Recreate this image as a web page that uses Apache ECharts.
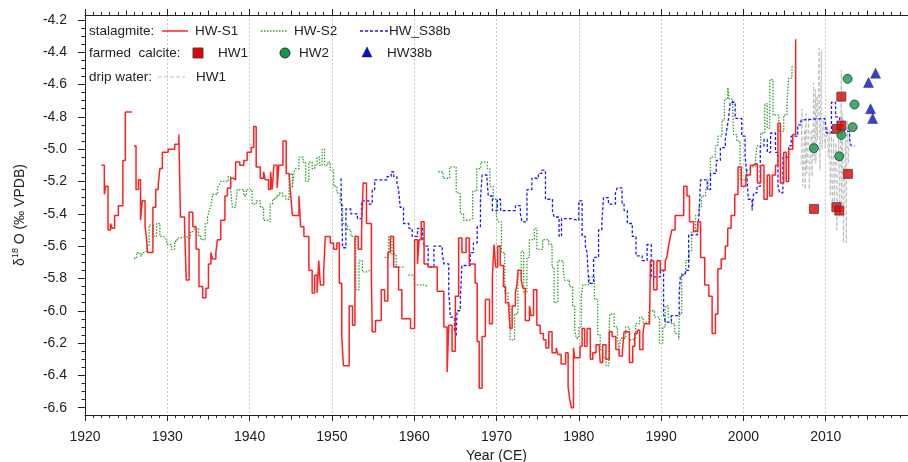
<!DOCTYPE html>
<html>
<head>
<meta charset="utf-8">
<script src="https://cdn.jsdelivr.net/npm/echarts@6/dist/echarts.min.js"></script>
<style>
html, body { margin: 0; padding: 0; background: #fff; }
#chart { width: 908px; height: 462px; }
</style>
</head>
<body>
<div id="chart"></div>
<script>
// 石笋 HW-S1（红色实线，阶梯）
var s1Year = [1922.0,1922.35,1922.5,1922.8,1923.1,1923.3,1923.6,1924.05,1924.6,1924.9,1925.5,1925.7,
  1925.95,1926.2,1926.5,1926.75,1926.95,1927.3,1927.45,1927.6,1928.25,1928.6,1928.9,1929.1,1929.4,1930.1,1930.9,
  1931.4,1931.6,1932.1,1932.3,1932.65,1933.1,1933.5,1933.85,1934.3,1934.7,1935.0,1935.3,1935.5,1935.9,1936.1,
  1936.5,1937.0,1937.3,1937.7,1938.0,1938.3,1938.8,1939.3,1939.7,1940.2,1940.5,1940.8,1941.3,1941.7,1941.9,
  1942.3,1942.55,1942.75,1942.95,1943.35,1943.55,1944.05,1944.45,1944.8,1945.0,1945.2,1946.0,1946.2,1946.6,
  1947.2,1947.6,1947.9,1948.2,1948.4,1948.6,1949.0,1949.2,1949.8,1950.2,1950.6,1950.9,1951.2,1951.4,1952.1,
  1952.5,1952.8,1953.2,1953.6,1953.8,1954.2,1954.8,1954.9,1955.3,1956.0,1956.4,1956.8,1957.1,1957.5,1958.1,
  1958.5,1959.55,1960.05,1960.4,1960.6,1960.85,1961.2,1961.7,1962.8,1963.6,1964.0,1964.2,1964.6,1965.0,1965.4,
  1965.8,1966.3,1966.7,1967.4,1967.65,1967.9,1968.25,1968.65,1969.15,1969.5,1969.7,1969.9,1970.15,1970.45,
  1970.85,1971.1,1971.5,1971.65,1971.9,1972.3,1972.5,1972.6,1973.0,1973.2,1973.5,1974.0,1974.2,1974.5,1974.9,
  1975.3,1975.7,1976.0,1976.35,1976.75,1977.25,1977.45,1977.85,1978.4,1978.7,1978.9,1979.1,1979.35,1979.5,
  1980.15,1980.4,1980.7,1981.0,1981.4,1981.7,1982.1,1982.5,1982.6,1982.9,1983.3,1983.7,1984.05,1984.5,1984.9,
  1985.3,1985.5,1986.15,1986.55,1986.8,1987.1,1987.4,1987.8,1987.95,1988.6,1988.7,1989.1,1989.5,1989.9,1990.5,
  1990.7,1990.9,1991.1,1991.3,1991.7,1992.75,1993.15,1993.45,1993.95,1994.45,1994.8,1995.3,1995.8,1996.2,
  1996.6,1996.9,1997.3,1997.8,1998.1,1998.5,1998.95,1999.35,1999.75,2000.3,2000.85,2001.1,2001.7,2002.1,
  2002.5,2002.9,2003.2,2003.5,2003.9,2004.2,2004.5,2004.9,2005.2,2005.5,2006.0,2006.35];
var s1Val = [-5.10,-5.28,-5.23,-5.50,-5.46,-5.49,-5.41,-5.35,-5.07,-4.77,-4.77,null,
  -4.98,-5.25,-5.19,-5.44,-5.32,-5.48,-5.54,-5.64,-5.36,-5.25,-5.22,-5.12,-5.02,-5.00,-4.97,
  -4.91,-5.42,-5.48,-5.81,-5.39,-5.48,-5.62,-5.85,-5.92,-5.86,-5.71,-5.64,-5.68,-5.64,-5.56,
  -5.44,-5.29,-5.24,-5.18,-5.19,-5.08,-5.10,-5.07,-5.02,-4.99,-4.86,-5.11,-5.18,-5.14,-5.19,
  -5.25,-5.14,-5.25,-5.10,-5.24,-5.10,-4.95,-5.15,-5.16,-5.29,-5.41,-5.29,-5.48,-5.54,
  -5.75,-5.89,-5.78,-5.89,-5.69,-5.84,-5.76,-5.54,-5.58,-5.62,-5.58,-5.83,-6.16,-6.34,-5.97,
  -6.09,-5.54,-5.62,-5.50,-5.21,-5.46,-5.80,-6.13,-6.06,-5.87,-5.94,-5.64,-5.54,-5.73,-5.87,
  -6.05,-6.11,-5.56,-5.71,-5.56,-5.45,-5.71,-5.73,-5.88,-6.10,-6.38,-6.09,-6.25,-5.91,-5.55,
  -5.64,-5.55,-5.71,-5.83,-6.19,-6.48,-6.16,-5.93,-6.08,-5.79,-5.59,-5.73,-5.60,-5.72,
  -5.85,-5.95,-6.00,-6.11,-5.97,-5.89,-5.83,-5.75,-5.81,-5.86,-6.06,-5.97,-6.03,-5.87,-6.09,
  -6.14,-6.18,-6.23,-6.13,-6.26,-6.23,-6.27,-6.33,-6.26,-6.47,-6.55,-6.60,-6.23,-6.29,
  -6.22,-6.11,-6.22,-6.11,-6.30,-6.26,-6.21,-6.24,-6.32,-6.21,-6.30,-6.13,-6.16,-6.24,-6.28,
  -6.25,-6.13,-6.32,-6.22,-6.14,-6.12,-6.24,-6.14,-6.08,-6.05,-5.69,-5.87,-5.69,-5.75,-5.69,
  -5.67,-5.60,-5.55,-5.50,-5.41,-5.23,-5.29,-5.45,-5.51,-5.45,-5.67,-5.84,-5.91,-6.14,
  -6.02,-5.74,-5.68,-5.60,-5.49,-5.41,-5.28,-5.11,-5.23,-5.16,-5.10,-5.09,-5.21,-5.10,
  -5.31,-5.16,-5.29,-5.16,-5.10,-4.84,-5.21,-5.02,-5.20,-5.00,-4.91,-4.32];

// 石笋 HW-S2（绿色点线）
var s2Year = [1925.95,1926.3,1926.7,1926.95,1927.2,1927.5,1927.8,1928.3,1928.7,1929.1,1929.5,1929.8,1930.0,
  1930.5,1930.9,1931.2,1931.6,1932.1,1932.8,1933.1,1933.3,1933.8,1934.1,1934.6,1934.9,1935.1,1935.3,1935.5,
  1936.1,1936.3,1936.5,1936.8,1937.0,1937.4,1937.7,1937.9,1938.3,1938.5,1938.9,1939.3,1939.6,1940.3,1940.8,
  1941.3,1941.7,1942.2,1942.5,1942.8,1943.2,1943.6,1944.0,1944.4,1944.8,1945.0,1945.2,1945.4,1945.6,1946.0,
  1946.5,1946.8,1947.2,1947.6,1947.9,1948.2,1948.5,1948.8,1949.1,1949.5,1949.8,1950.2,1950.6,1951.0,1951.3,
  1951.5,1951.9,1952.3,1952.9,1953.3,1953.7,1954.25,1954.6,1954.8,
  1956.4,1956.9,1957.3,1957.8,1958.6,1958.9,
  1959.3,1960.0,1961.3,1961.6,
  1962.9,1963.5,1964.3,1965.1,1965.6,1966.0,1966.6,1967.1,1967.6,1968.1,1968.9,1969.2,1969.6,1970.0,1970.2,
  1970.6,1971.0,1971.4,1971.65,1972.2,1972.6,1973.0,1973.3,1973.7,1974.0,1974.6,1974.9,1975.6,1976.35,1976.75,
  1977.0,1977.45,1978.1,1978.25,1978.86,1979.25,1979.5,1979.7,1980.0,1980.3,1980.5,1981.3,1981.9,1982.3,1982.6,
  1982.9,1983.3,1983.65,1983.75,1984.3,1984.7,1984.9,1985.1,1985.7,1986.15,1986.55,1986.9,1987.4,1987.8,1988.5,
  1989.2,1989.8,1990.2,1990.5,1990.85,1991.25,1991.65,1992.15,1992.2,1992.5,1993.0,1993.4,1993.7,1994.2,1994.6,
  1994.9,1995.4,1995.7,1996.0,1996.6,1996.9,1997.4,1997.7,1998.1,1998.3,1998.7,1998.8,1999.2,1999.6,2000.4,
  2000.85,2001.45,2001.65,2002.1,2002.6,2002.9,2003.2,2003.6,2004.3,2004.9,2005.3,2005.5,2005.9,2006.2];
var s2Val = [-5.675,-5.64,-5.66,-5.64,-5.63,-5.60,-5.47,-5.54,-5.46,-5.54,-5.55,-5.56,-5.59,
  -5.62,-5.57,-5.55,-5.54,-5.55,-5.51,-5.50,-5.49,-5.54,-5.56,-5.46,-5.42,-5.38,-5.35,-5.28,
  -5.24,-5.22,-5.20,-5.19,-5.20,-5.17,-5.25,-5.36,-5.37,-5.25,-5.25,-5.29,-5.25,-5.34,-5.32,
  -5.36,-5.44,-5.45,-5.34,-5.31,-5.29,-5.27,-5.29,-5.31,-5.16,-5.15,-5.24,-5.14,-5.12,-5.05,
  -5.08,-5.20,-5.08,-5.12,-5.10,-5.05,-5.10,-5.00,-5.10,-5.08,-5.13,-5.23,-5.27,-5.34,-5.45,
  -5.47,-5.50,-5.54,-5.87,-5.69,-5.76,-5.75,-5.75,null,
  -5.67,-5.54,-5.65,-5.73,-5.73,null,
  -5.78,-5.84,-5.85,null,
  -5.14,-5.18,-5.11,-5.27,-5.40,-5.44,-5.43,-5.26,-5.12,-5.08,-5.12,-5.23,-5.31,-5.42,-5.45,
  -5.64,-5.89,-5.97,-6.18,-6.02,-5.77,-5.63,-5.89,-5.67,-5.56,-5.49,-5.62,-5.56,-5.59,-5.73,
  -5.95,-5.69,-5.73,-5.81,-5.85,-5.97,-6.12,-6.17,-6.10,-5.91,-5.84,-5.79,-5.93,-6.15,-6.24,
  -6.29,-6.34,-6.24,-6.02,-6.10,-6.17,-6.24,-6.17,-6.10,-6.18,-6.17,-6.08,-6.04,-6.07,-6.00,
  -6.04,-6.20,-6.10,-5.97,-6.04,-6.08,-6.14,-6.18,-6.02,-5.77,-5.69,-5.63,-5.51,-5.41,-5.36,
  -5.29,-5.25,-5.19,-5.05,-4.98,-4.92,-4.82,-4.69,-4.62,-4.69,-4.76,-4.91,-4.95,-5.19,-5.13,
  -5.11,-5.07,-4.98,-4.90,-4.72,-4.87,-4.57,-4.79,-4.89,-4.79,-4.70,-4.56,-4.49,-4.49];

// 石笋 HW_S38b（蓝色虚线）
var s38Year = [1951.1,1951.3,1951.7,1952.3,1953.1,1953.6,1954.5,1954.9,1955.2,1956.7,1957.2,1957.5,1957.9,
  1958.1,1958.3,1958.7,1959.35,1959.75,1960.4,1961.0,1961.2,1961.7,1962.4,1963.4,1963.6,1964.2,1964.4,1964.9,
  1965.1,1965.2,1965.6,1965.8,1966.8,1967.2,1967.65,1968.05,1968.25,1968.85,1969.0,1969.5,1970.1,1970.5,1972.3,
  1972.9,1973.1,1973.7,1974.3,1975.1,1975.5,1975.95,1976.8,1977.0,1977.6,1977.9,1979.0,1980.0,1980.4,1980.8,
  1981.0,1981.2,1981.8,1982.4,1982.8,1983.0,1983.6,1984.45,1984.65,1985.25,1985.5,1985.9,1986.5,1986.95,1987.7,
  1988.3,1988.8,1989.9,1990.3,1990.5,1991.25,1992.2,1992.35,1992.95,1993.35,1994.4,1994.6,1994.8,1995.6,1996.0,
  1996.7,1997.2,1997.8,1998.0,1998.2,1998.4,1999.0,1999.8,2000.2,2000.4,2000.6,2001.05,2001.25,2001.65,2002.05,
  2002.5,2002.9,2003.3,2003.9,2004.2,2004.4,2004.8,2005.5,2005.8,2006.6,2007.0,2007.2,2009.9,2010.1,2010.7,
  2011.2,2011.7,2012.1,2012.3,2012.9,2013.1,2013.5];
var s38Val = [-5.18,-5.61,-5.37,-5.40,-5.43,-5.32,-5.34,-5.25,-5.19,-5.17,-5.14,-5.17,-5.21,
  -5.25,-5.36,-5.46,-5.49,-5.54,-5.49,-5.54,-5.60,-5.73,-5.60,-5.64,-5.71,-5.89,-6.04,-6.12,
  -6.16,-6.00,-5.93,-5.72,-5.64,-5.58,-5.48,-5.31,-5.16,-5.19,-5.29,-5.38,-5.31,-5.38,-5.35,
  -5.40,-5.45,-5.25,-5.18,-5.15,-5.13,-5.31,-5.38,-5.42,-5.54,-5.43,-5.44,-5.32,-5.54,-5.60,
  -5.64,-5.83,-5.67,-5.50,-5.46,-5.30,-5.34,-5.27,-5.24,-5.34,-5.38,-5.46,-5.54,-5.66,-5.69,
  -5.59,-5.79,-5.75,-6.02,-6.07,-6.03,-5.89,-5.78,-5.75,-5.53,-5.50,-5.41,-5.19,-5.25,-5.15,
  -5.07,-4.99,-4.94,-4.87,-4.81,-4.71,-4.81,-4.92,-5.04,-5.15,-5.31,-5.38,-5.27,-5.23,-4.98,
  -4.94,-5.02,-4.90,-5.02,-5.23,-5.27,-5.05,-4.98,-4.92,-4.85,-4.82,-4.81,-4.82,-4.90,-4.71,
  -4.80,-4.83,-4.86,-4.89,-4.94,-4.98,-4.98];

// 滴水 HW1（灰色虚线）
var dripYear = [2007.0,2007.12,2007.2,2007.45,2007.5,2007.6,2007.7,2007.93,2008.0,2008.25,2008.35,2008.54,
  2008.6,2008.74,2008.8,2008.94,2009.0,2009.2,2009.3,2009.47,2009.55,2009.75,2009.9,2010.2,2010.3,2010.45,
  2010.55,2010.7,2010.8,2010.97,2011.05,2011.25,2011.35,2011.6,2011.7,2011.9,2011.95,2012.06,2012.15,2012.4,
  2012.5,2012.6,2012.75,2012.9];
var dripVal = [-5.10,-4.75,-5.23,-4.88,-5.25,-4.78,-5.15,-4.80,-5.25,-4.88,-5.17,-4.59,
  -5.07,-4.63,-5.09,-4.67,-4.94,-4.375,-5.13,-4.39,-5.00,-4.82,-4.99,-4.86,-5.05,-4.88,
  -5.29,-4.92,-5.37,-4.94,-5.33,-4.96,-5.50,-4.88,-5.42,-4.51,-5.35,-4.78,-5.58,-4.94,
  -5.58,-4.82,-5.09,-4.88];

// 养殖方解石
var fcHW1Year = [2008.57, 2011.9, 2011.37, 2011.9, 2012.7, 2011.3, 2011.65];
var fcHW1Val = [-5.37, -4.675, -4.875, -4.854, -5.153, -5.359, -5.38];
var fcHW2Year = [2012.66, 2013.5, 2013.27, 2011.9, 2011.65, 2008.57];
var fcHW2Val = [-4.565, -4.724, -4.864, -4.912, -5.044, -4.994];
var fcHW38Year = [2016.06, 2015.2, 2015.45, 2015.7];
var fcHW38Val = [-4.53, -4.588, -4.75, -4.81];

// 坐标轴刻度
var yTicks = [-6.6, -6.4, -6.2, -6.0, -5.8, -5.6, -5.4, -5.2, -5.0, -4.8, -4.6, -4.4, -4.2];
var yMinorTicks = [];
for (var t = -6.6; t <= -4.17; t += 0.05) { yMinorTicks.push(Math.round(t * 100) / 100); }

function pairs(xs, ys) {
    return xs.map(function(x, i) { return [x, ys[i]]; });
}

var FONT = 'Liberation Sans, Arial, sans-serif';
var AX = '#222';

var myChart = echarts.init(document.getElementById('chart'), null, { renderer: 'canvas' });

// 横轴：10年主刻度 + 5年中刻度 + 1年小刻度，上下两条
function xAxisMain(pos, showLabel) {
    return {
        type: 'value', position: pos, min: 1920, max: 2020, interval: 10,
        axisLine: { show: true, onZero: false, lineStyle: { color: AX, width: 1 } },
        axisTick: { show: true, length: 6, lineStyle: { color: AX } },
        minorTick: { show: true, splitNumber: 10, length: 3, lineStyle: { color: AX } },
        axisLabel: {
            show: showLabel, margin: 15, fontSize: 14, fontFamily: FONT, color: '#222', showMaxLabel: false,
            formatter: function(v) { return String(v); }
        },
        splitLine: { show: showLabel, lineStyle: { type: [2, 2], color: '#c8c8c8', width: 1 } },
        name: showLabel ? 'Year (CE)' : '',
        nameLocation: 'middle', nameGap: 34,
        nameTextStyle: { fontSize: 14, fontFamily: FONT, color: '#222' }
    };
}
function xAxisMid(pos) {
    return {
        type: 'value', position: pos, min: 1920, max: 2020, interval: 5,
        axisLine: { show: false, onZero: false },
        axisTick: { show: true, length: 4.5, lineStyle: { color: AX } },
        axisLabel: { show: false }, splitLine: { show: false }
    };
}

var option = {
    backgroundColor: '#fff',
    animation: false,
    grid: { left: 85, right: 0, top: 15, bottom: 47, containLabel: false, outerBoundsMode: 'none' },
    xAxis: [xAxisMain('bottom', true), xAxisMid('bottom'), xAxisMain('top', false), xAxisMid('top')],
    yAxis: [{
        type: 'value', min: -6.645, max: -4.17,
        axisLine: { show: true, lineStyle: { color: AX } },
        axisTick: { show: true, customValues: yTicks, length: 7, lineStyle: { color: AX } },
        axisLabel: {
            customValues: yTicks, margin: 18, fontSize: 14, fontFamily: FONT, color: '#222',
            formatter: function(v) { return v.toFixed(1); }
        },
        splitLine: { show: false },
        name: '{d|δ}{s|18}{d| O (‰ VPDB)}',
        nameLocation: 'middle', nameRotate: 90, nameGap: 56,
        nameTextStyle: {
            fontFamily: FONT, color: '#222',
            rich: {
                d: { fontSize: 14, fontFamily: FONT, color: '#222', lineHeight: 18 },
                s: { fontSize: 9, fontFamily: FONT, color: '#222', verticalAlign: 'top', lineHeight: 18 }
            }
        }
    }, {
        type: 'value', min: -6.645, max: -4.17, position: 'left',
        axisLine: { show: false },
        axisTick: { show: true, customValues: yMinorTicks, length: 3.5, lineStyle: { color: AX } },
        axisLabel: { show: false, customValues: yMinorTicks },
        splitLine: { show: false }
    }],
    series: [{
        name: 'HW-S2', type: 'line', step: 'end', showSymbol: false, symbol: 'none',
        data: pairs(s2Year, s2Val),
        lineStyle: { color: '#2ca02c', width: 1.3, type: [1.5, 1.5] }, z: 3
    }, {
        name: 'HW_S38b', type: 'line', step: 'end', showSymbol: false, symbol: 'none',
        data: pairs(s38Year, s38Val),
        lineStyle: { color: '#1a1aff', width: 1.3, type: [3, 2] }, z: 4
    }, {
        name: 'HW-S1', type: 'line', step: 'end', showSymbol: false, symbol: 'none',
        data: pairs(s1Year, s1Val),
        lineStyle: { color: '#ff2222', width: 1.5 }, z: 5
    }, {
        name: 'drip HW1', type: 'line', showSymbol: false, symbol: 'none',
        data: pairs(dripYear, dripVal),
        lineStyle: { color: '#b4b4b4', width: 0.8, type: [4, 2] }, z: 2
    }, {
        name: 'fc HW1', type: 'scatter', symbol: 'rect', symbolSize: 9,
        data: pairs(fcHW1Year, fcHW1Val),
        itemStyle: { color: '#e60000', borderColor: '#444', borderWidth: 1 }, z: 6
    }, {
        name: 'fc HW2', type: 'scatter', symbol: 'circle', symbolSize: 9,
        data: pairs(fcHW2Year, fcHW2Val),
        itemStyle: { color: '#0f9a4a', borderColor: '#333', borderWidth: 1 }, z: 6
    }, {
        name: 'fc HW38b', type: 'scatter', symbol: 'triangle', symbolSize: 10,
        data: pairs(fcHW38Year, fcHW38Val),
        itemStyle: { color: '#0010cc', borderColor: '#222', borderWidth: 0.5 }, z: 6
    }],
    graphic: [
        { type: 'text', z: 10, style: { x: 89, y: 31, text: 'stalagmite:', font: '13.5px ' + FONT, fill: '#222', verticalAlign: 'middle' } },
        { type: 'line', z: 10, shape: { x1: 162, y1: 31, x2: 188, y2: 31 }, style: { stroke: '#ff2222', lineWidth: 1.5 } },
        { type: 'text', z: 10, style: { x: 195, y: 31, text: 'HW-S1', font: '13.5px ' + FONT, fill: '#222', verticalAlign: 'middle' } },
        { type: 'line', z: 10, shape: { x1: 261, y1: 31, x2: 287, y2: 31 }, style: { stroke: '#2ca02c', lineWidth: 1.3, lineDash: [1.5, 1.5] } },
        { type: 'text', z: 10, style: { x: 294, y: 31, text: 'HW-S2', font: '13.5px ' + FONT, fill: '#222', verticalAlign: 'middle' } },
        { type: 'line', z: 10, shape: { x1: 360, y1: 31, x2: 388, y2: 31 }, style: { stroke: '#1a1aff', lineWidth: 1.3, lineDash: [3, 2] } },
        { type: 'text', z: 10, style: { x: 389, y: 31, text: 'HW_S38b', font: '13.5px ' + FONT, fill: '#222', verticalAlign: 'middle' } },

        { type: 'text', z: 10, style: { x: 89, y: 53, text: 'farmed  calcite:', font: '13.5px ' + FONT, fill: '#222', verticalAlign: 'middle' } },
        { type: 'rect', z: 10, shape: { x: 193, y: 48, width: 10, height: 10 }, style: { fill: '#e60000', stroke: '#444', lineWidth: 1 } },
        { type: 'text', z: 10, style: { x: 218, y: 53, text: 'HW1', font: '13.5px ' + FONT, fill: '#222', verticalAlign: 'middle' } },
        { type: 'circle', z: 10, shape: { cx: 285, cy: 53, r: 5 }, style: { fill: '#0f9a4a', stroke: '#333', lineWidth: 1 } },
        { type: 'text', z: 10, style: { x: 299, y: 53, text: 'HW2', font: '13.5px ' + FONT, fill: '#222', verticalAlign: 'middle' } },
        { type: 'polygon', z: 10, shape: { points: [[367, 47], [372, 57], [362, 57]] }, style: { fill: '#0010cc', stroke: '#222', lineWidth: 0.5 } },
        { type: 'text', z: 10, style: { x: 387, y: 53, text: 'HW38b', font: '13.5px ' + FONT, fill: '#222', verticalAlign: 'middle' } },

        { type: 'text', z: 10, style: { x: 89, y: 77, text: 'drip water:', font: '13.5px ' + FONT, fill: '#222', verticalAlign: 'middle' } },
        { type: 'line', z: 10, shape: { x1: 158, y1: 77, x2: 185, y2: 77 }, style: { stroke: '#b4b4b4', lineWidth: 0.8, lineDash: [4, 2] } },
        { type: 'text', z: 10, style: { x: 196, y: 77, text: 'HW1', font: '13.5px ' + FONT, fill: '#222', verticalAlign: 'middle' } }
    ]
};

myChart.setOption(option);
</script>
</body>
</html>
